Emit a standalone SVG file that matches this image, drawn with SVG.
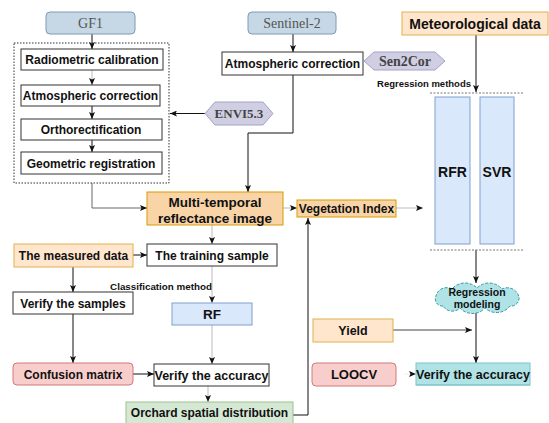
<svg xmlns="http://www.w3.org/2000/svg" width="549" height="423" viewBox="0 0 549 423">
<style>
.t{font-family:"Liberation Sans",Arial,sans-serif;font-weight:bold;font-size:12px;fill:#111;text-anchor:middle}
.s{font-family:"Liberation Serif","Times New Roman",serif;font-size:14px;fill:#555;text-anchor:middle}
.sb{font-family:"Liberation Serif","Times New Roman",serif;font-weight:bold;font-size:14px;fill:#444;text-anchor:middle}
.w{fill:#fff;stroke:#333;stroke-width:1}
.blue{fill:#dae8fc;stroke:#7f9fd0;stroke-width:1}
.src{fill:#c6d7e5;stroke:#7e9ab5;stroke-width:1}
.orange{fill:#f9d4a6;stroke:#d79b00;stroke-width:1}
.lorange{fill:#ffe6cc;stroke:#e0b050;stroke-width:1}
.red{fill:#f8cecc;stroke:#d07a76;stroke-width:1}
.green{fill:#d5e8d4;stroke:#9cc08e;stroke-width:1}
.teal{fill:#b0e3e6;stroke:#7cc4c9;stroke-width:1}
.hex{fill:#d0cee2;stroke:#a6a1c6;stroke-width:1}
.c{fill:none;stroke:#111;stroke-width:1}
.g{fill:none;stroke:#bbb;stroke-width:1}
.dot{fill:none;stroke:#333;stroke-width:1;stroke-dasharray:1.5 1.5}
.gdot{fill:none;stroke:#777;stroke-width:1;stroke-dasharray:2 1.5}
</style>
<defs>
<marker id="a" markerWidth="7" markerHeight="6" refX="7" refY="3" orient="auto" markerUnits="userSpaceOnUse">
<path d="M0,0 L7,3 L0,6 L1.5,3 z" fill="#111"/>
</marker>
</defs>

<g id="connectors">
<path class="c" d="M92,34 V49" marker-end="url(#a)"/>
<path class="g" d="M92,70 V85" marker-end="url(#a)"/>
<path class="c" d="M92,106 V119" marker-end="url(#a)"/>
<path class="c" d="M92,140 V152" marker-end="url(#a)"/>
<path class="c" d="M205,113.5 H170" marker-end="url(#a)"/>
<path class="c" d="M293,34 V52" marker-end="url(#a)"/>
<path class="c" d="M293,75 V133 H248 V192" marker-end="url(#a)"/>
<path fill="none" stroke="#666" d="M92,183 V208 H147" marker-end="url(#a)"/>
<path class="g" d="M283,208 H297" marker-end="url(#a)"/>
<path class="g" d="M396,208 H423" marker-end="url(#a)"/>
<path class="c" d="M476,35 V92" marker-end="url(#a)"/>
<path class="c" d="M476,250 V283" marker-end="url(#a)"/>
<path class="c" d="M476,312 V363" marker-end="url(#a)"/>
<path fill="none" stroke="#444" d="M393,330 H472" marker-end="url(#a)"/>
<path fill="none" stroke="#eee" d="M404,374 H416" marker-end="url(#a)"/>
<path class="g" d="M212,225 V244" marker-end="url(#a)"/>
<path class="c" d="M133,255 H147" marker-end="url(#a)"/>
<path class="g" d="M212,266 V303" marker-end="url(#a)"/>
<path class="g" d="M212,325 V364" marker-end="url(#a)"/>
<path class="c" d="M73,267 V292" marker-end="url(#a)"/>
<path class="c" d="M73,314 V363" marker-end="url(#a)"/>
<path class="c" d="M133,374 H154" marker-end="url(#a)"/>
<path class="g" d="M208,386 V402" marker-end="url(#a)"/>
<path class="c" d="M293,415 H308 V218" marker-end="url(#a)"/>
</g>

<g id="gf1"><rect class="src" x="46" y="12" width="89" height="22" rx="4"/><text class="s" x="90.5" y="28">GF1</text></g>
<g id="sentinel2"><rect class="src" x="248" y="12" width="88" height="22" rx="4"/><text class="s" x="292" y="28">Sentinel-2</text></g>
<g id="meteo"><rect class="lorange" x="402" y="12" width="146" height="23"/><text class="t" style="font-size:14px" x="475" y="28.5">Meteorological data</text></g>

<g id="gf1-preprocessing"><rect class="dot" x="14" y="43" width="155" height="140"/></g>
<g id="radiometric"><rect class="w" x="21" y="49" width="142" height="21"/><text class="t" x="92" y="64">Radiometric calibration</text></g>
<g id="atm-gf1"><rect class="w" x="21" y="85" width="139" height="21"/><text class="t" x="90.5" y="100">Atmospheric correction</text></g>
<g id="ortho"><rect class="w" x="21" y="119" width="141" height="21"/><text class="t" x="91" y="134">Orthorectification</text></g>
<g id="geo"><rect class="w" x="21" y="152" width="141" height="22"/><text class="t" x="91" y="167.5">Geometric registration</text></g>

<g id="atm-s2"><rect class="w" x="222" y="52" width="141" height="23"/><text class="t" x="292.5" y="68">Atmospheric correction</text></g>
<g id="sen2cor"><polygon class="hex" points="364,61 374,52 435,52 445,61 435,70 374,70"/><text class="sb" x="405" y="66">Sen2Cor</text></g>
<g id="envi"><polygon class="hex" points="205,113.5 215,102 263,102 273,113.5 263,125 215,125"/><text class="sb" style="font-size:13px" x="239" y="118">ENVI5.3</text></g>
<text class="t" style="font-size:9.5px" x="424" y="86.5">Regression methods</text>

<g id="multi"><rect class="orange" x="147" y="192" width="136" height="33"/><text class="t" style="font-size:13.5px" x="215" y="207">Multi-temporal</text><text class="t" style="font-size:13.5px" x="215" y="223">reflectance image</text></g>
<g id="vi"><rect class="orange" x="297" y="200" width="99" height="17"/><text class="t" x="346.5" y="213">Vegetation Index</text></g>

<g id="regression-methods"><path class="gdot" d="M430,93 H523 M430,250 H523"/></g>
<g id="rfr"><rect class="blue" x="435" y="97" width="35" height="147"/><text class="t" style="font-size:14px" x="452.5" y="177">RFR</text></g>
<g id="svr"><rect class="blue" x="480" y="97" width="34" height="147"/><text class="t" style="font-size:14px" x="497" y="177">SVR</text></g>

<g id="regression-modeling">
<path fill="#b0e3e6" stroke="#2e9aa2" stroke-width="1" stroke-dasharray="3 1.5" d="M443,306 A7,7 0 0 1 436,296 A11,11 0 0 1 452,289 A17,17 0 0 1 477,288 A17,17 0 0 1 502,289 A12,12 0 0 1 519,297 A8,8 0 0 1 510,306 A17,17 0 0 1 485,308 A17,17 0 0 1 460,308 A11,11 0 0 1 443,306 Z"/>
<text class="t" style="font-size:10.5px" x="477" y="296">Regression</text>
<text class="t" style="font-size:10.5px" x="477" y="308">modeling</text>
</g>

<g id="measured"><rect class="lorange" x="14" y="244" width="119" height="23"/><text class="t" x="73.5" y="259.5">The measured data</text></g>
<g id="training"><rect class="w" x="147" y="244" width="130" height="22"/><text class="t" x="212" y="259.5">The training sample</text></g>
<text class="t" style="font-size:9.8px" x="161" y="289.5">Classification method</text>
<g id="verify-samples"><rect class="w" x="13" y="292" width="120" height="22"/><text class="t" x="73" y="307.5">Verify the samples</text></g>
<g id="rf"><rect class="blue" x="172" y="303" width="80" height="22"/><text class="t" style="font-size:13.5px" x="212" y="319">RF</text></g>
<g id="confusion"><rect class="red" x="13" y="363" width="120" height="22" rx="4"/><text class="t" x="73" y="378.5">Confusion matrix</text></g>
<g id="verify-left"><rect class="w" x="154" y="364" width="115" height="22"/><text class="t" style="font-size:12.5px" x="211.5" y="379.5">Verify the accuracy</text></g>
<g id="orchard"><rect class="green" x="126" y="402" width="167" height="22"/><text class="t" x="209.5" y="417">Orchard spatial distribution</text></g>

<g id="yield"><rect class="lorange" x="313" y="319" width="80" height="23"/><text class="t" style="font-size:12.5px" x="353" y="335">Yield</text></g>
<g id="loocv"><rect class="red" x="312" y="363" width="84" height="23" rx="4"/><text class="t" style="font-size:13px" x="354" y="379">LOOCV</text></g>
<g id="verify-right"><rect class="teal" x="416" y="363" width="114" height="22" stroke="none"/><path d="M416,385 H530" stroke="#7cc4c9"/><text class="t" style="font-size:12.5px" x="473" y="378.5">Verify the accuracy</text></g>
</svg>
